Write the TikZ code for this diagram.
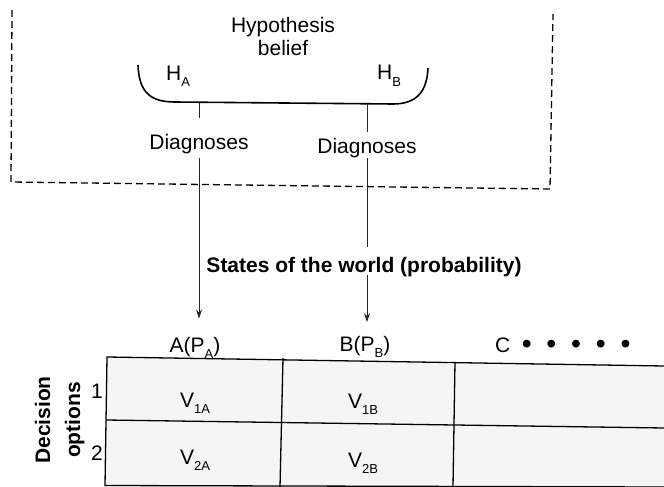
\documentclass[tikz,border=0pt]{standalone}
\usepackage{fontspec}
\setmainfont{Liberation Sans}
\usetikzlibrary{arrows.meta}
\newcommand{\sbx}[1]{\raisebox{-6pt}{\fontsize{13}{13}\selectfont #1}}
\newcommand{\bigdot}{\makebox[24.7pt]{\raisebox{-1pt}{\scalebox{1.35}{•}}}}
\begin{document}
\begin{tikzpicture}[x=1pt,y=-1pt,
  lbl/.style={font=\fontsize{21}{23}\selectfont, inner sep=0pt, anchor=base},
  blbl/.style={lbl, font=\fontsize{21}{23}\selectfont\bfseries},
  conn/.style={line width=0.9pt, draw=black!85},
  arr/.style={conn, -{Stealth[length=9pt,width=6pt]}},
  bracketline/.style={line width=1.6pt},
  dashbox/.style={line width=1.3pt, dash pattern=on 7pt off 4pt},
  tbl/.style={line width=1.3pt},
  cellfill/.style={fill=gray!8}]
\useasboundingbox (0,0) rectangle (664,487);
\clip (0,0) rectangle (664,487);

% dashed enclosure (open at the top)
\draw[dashbox] (12,10) -- (11,182) -- (550,189) -- (553,14);

% hypothesis belief
\node[lbl, anchor=center, align=center] (hyp) at (283,36) {Hypothesis\\belief};
\node[lbl, anchor=base west] (HA) at (166,81) {H\sbx{A}};
\node[lbl, anchor=base west] (HB) at (377,80) {H\sbx{B}};

% bracket
\draw[bracketline] (138,65) .. controls (139,92) and (150,102) .. (175,102)
  -- (393,104) .. controls (418,104) and (427,90) .. (428,68);
\coordinate (ba) at (199,103);
\coordinate (bb) at (367,104);

% diagnoses labels
\node[lbl] (diagA) at (199,149) {Diagnoses};
\node[lbl] (diagB) at (367,153) {Diagnoses};

% states of the world
\node[blbl] (states) at (364,272) {States of the world (probability)};

% column headings
\node[lbl] (PA) at (195,352) {A(P\sbx{A})};
\node[lbl] (PB) at (365,351) {B(P\sbx{B})};
\node[lbl, anchor=base west] (PC) at (495,352) {C\hspace{4pt}\bigdot\bigdot\bigdot\bigdot\bigdot};

% connectors
\draw[conn, shorten >=16pt] (ba) -- (diagA.north);
\draw[arr, shorten <=4pt, shorten >=18pt] (diagA.south) -- (diagA.south |- PA.north);
\draw[conn, shorten >=5.5pt] (bb) -- (diagB.north);
\draw[conn, shorten <=0.5pt, shorten >=9.5pt] (diagB.south) -- (diagB.south |- states.north);
\draw[arr, shorten <=-2pt, shorten >=13.5pt] (diagB.south |- states.south) -- (diagB.south |- PB.north);

% table
\fill[cellfill] (107,357) -- (664,366) -- (664,487) -- (105,487) -- cycle;
\draw[tbl] (664,366) -- (107,357) -- (105,485.5) -- (664,487);
\draw[tbl] (106,420) -- (664,428);
\draw[tbl] (283,358) -- (280,487);
\draw[tbl] (455,362) -- (453,487);

\node[lbl] (V1A) at (195,407) {V\sbx{1A}};
\node[lbl] (V1B) at (363,408) {V\sbx{1B}};
\node[lbl] (V2A) at (195,464) {V\sbx{2A}};
\node[lbl] (V2B) at (363,467) {V\sbx{2B}};

\node[lbl] (one) at (97,398) {1};
\node[lbl] (two) at (97,460) {2};
\node[blbl, rotate=90] (dec) at (50,420) {Decision};
\node[blbl, rotate=90] (opt) at (80,420) {options};
\end{tikzpicture}
\end{document}
